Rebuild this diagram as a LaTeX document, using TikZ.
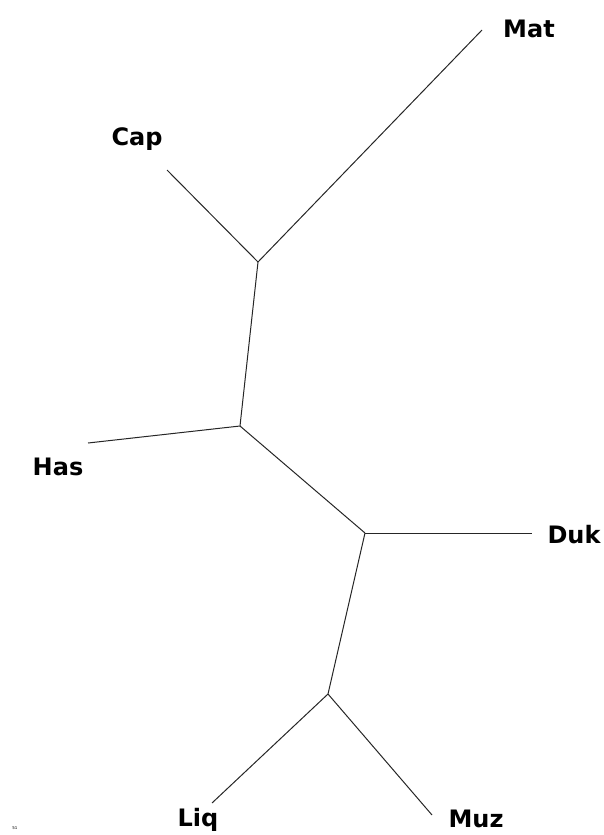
\documentclass[tikz,border=0pt]{standalone}
\usepackage{fontspec}
\setmainfont{DejaVu Sans}
\begin{document}
\begin{tikzpicture}[x = 1pt, y = -1pt,
	branch/.style = { draw, line width = 1pt, black!85 },
	leaf/.style = { anchor = base, inner sep = 0pt, font = \fontsize{24}{28}\selectfont\bfseries }]
	\useasboundingbox (0,0) rectangle (604,835);
	% inner nodes
	\coordinate (n1) at (258,262);
	\coordinate (n2) at (240,426);
	\coordinate (n3) at (365,533);
	\coordinate (n4) at (328,694);
	% leaf ends
	\coordinate (mat) at (482,30);
	\coordinate (cap) at (167,170);
	\coordinate (has) at (88,443);
	\coordinate (duk) at (532,533);
	\coordinate (liq) at (212,803);
	\coordinate (muz) at (432,815);
	% labels
	\node [leaf] (matlabel) at (529,37) { Mat };
	\node [leaf] (caplabel) at (137,145) { Cap };
	\node [leaf] (haslabel) at (58,475) { Has };
	\node [leaf] (duklabel) at (574,543) { Duk };
	\node [leaf] (liqlabel) at (198,826) { Liq };
	\node [leaf] (muzlabel) at (476,827) { Muz };
	\node [inner sep = 0pt, font = \fontsize{4}{5}\selectfont] (mark) at (15,828) { 51 };
	% branches
	\draw [branch] (n1) -- (mat);
	\draw [branch] (n1) -- (cap);
	\draw [branch] (n1) -- (n2);
	\draw [branch] (n2) -- (has);
	\draw [branch] (n2) -- (n3);
	\draw [branch] (n3) -- (duk);
	\draw [branch] (n3) -- (n4);
	\draw [branch] (n4) -- (liq);
	\draw [branch] (n4) -- (muz);
\end{tikzpicture}
\end{document}
